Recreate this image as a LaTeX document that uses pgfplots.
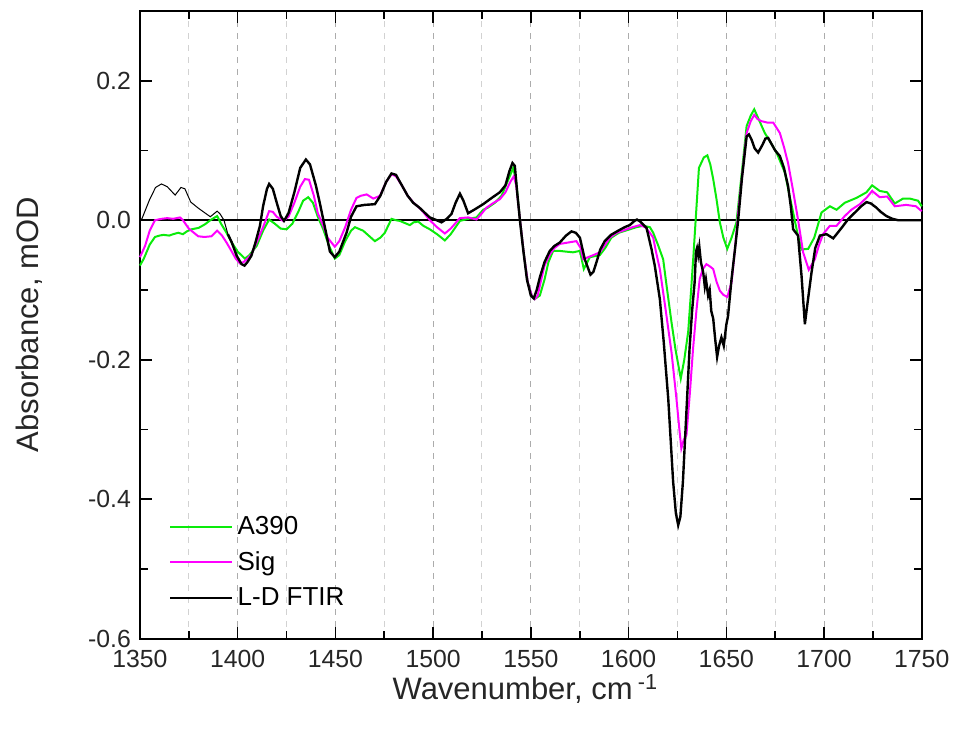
\documentclass[border=0pt]{standalone}
\usepackage{fontspec}
\setmainfont{Liberation Sans}
\usepackage{pgfplots}
\pgfplotsset{compat=1.18}
\definecolor{cgreen}{RGB}{10,235,10}
\definecolor{cmag}{RGB}{255,0,255}
\begin{document}
\begin{tikzpicture}
\begin{axis}[
  scale only axis, width=391pt, height=314pt,
  xmin=1350, xmax=1750, ymin=-0.6, ymax=0.3,
  clip=false,
  xtick={1350,1400,1450,1500,1550,1600,1650,1700,1750},
  minor x tick num=1,
  ytick={-0.6,-0.4,-0.2,0,0.2},
  minor y tick num=1,
  tick align=inside,
  major tick length=6pt, minor tick length=4pt,
  tick style={black, line width=0.8pt},
  axis line style={line width=0.9pt},
  xmajorgrids, xminorgrids,
  major grid style={gray!65, dashed, line width=0.5pt},
  minor grid style={gray!35, dashed, line width=0.5pt},
  /pgf/number format/assume math mode=true,
  yticklabel style={/pgf/number format/fixed, /pgf/number format/fixed zerofill, /pgf/number format/precision=1, xshift=-1pt, font=\fontsize{12.4}{14}\selectfont, text=black!85},
  xticklabel style={/pgf/number format/set thousands separator={}, yshift=-2pt, font=\fontsize{12.4}{14}\selectfont, text=black!85},
  xlabel={Wavenumber, cm\,\textsuperscript{-1}},
  ylabel={Absorbance, mOD},
  every axis x label/.style={at={(axis description cs:0.493,-0.08)}, anchor=center, font=\fontsize{15.5}{18}\selectfont, text=black!85},
  every axis y label/.style={at={(axis description cs:-0.141,0.5)}, anchor=center, rotate=90, font=\fontsize{15.5}{18}\selectfont, text=black!85},
  legend style={at={(axis description cs:0.037,0.202)}, anchor=north west, draw=none, fill=none,
    font=\fontsize{13}{15}\selectfont, row sep=3pt, inner sep=0pt},
  legend cell align=left,
  legend image code/.code={\draw[#1] (0pt,0pt) -- (31pt,0pt);},
]
\path (axis cs:1278.4,0.3157) rectangle (axis cs:1767.4,-0.7357);
\addplot[black, line width=0.9pt, forget plot] coordinates {(1350,0)(1750,0)};

\addplot[cgreen, line width=1pt] coordinates {
(1350,-0.065)(1352,-0.055)(1355,-0.035)(1357.7,-0.024)(1360,-0.022)(1362,-0.021)(1365,-0.022)(1367,-0.02)(1369.6,-0.018)(1372,-0.02)(1374,-0.016)(1376.4,-0.013)(1380,-0.011)(1383.2,-0.006)(1386,0.0)(1389.5,0.006)(1391.5,-0.005)(1394.3,-0.018)(1397,-0.032)(1400,-0.045)(1403.7,-0.055)(1406,-0.05)(1409.7,-0.037)(1413,-0.015)(1416.1,0.001)(1419,-0.005)(1422,-0.012)(1425,-0.013)(1428,-0.005)(1431,0.012)(1433.5,0.028)(1436.1,0.033)(1438.5,0.025)(1441,0.005)(1443.8,-0.013)(1446.5,-0.035)(1449.7,-0.055)(1452,-0.05)(1455,-0.03)(1458,-0.015)(1460,-0.01)(1464.2,-0.015)(1467,-0.022)(1470.2,-0.03)(1473,-0.025)(1475.3,-0.018)(1477,-0.008)(1478.7,0.002)(1481,0.0)(1483,-0.001)(1485.5,-0.004)(1488.1,-0.007)(1490,-0.003)(1492.4,-0.002)(1495,-0.008)(1498.3,-0.013)(1502,-0.02)(1506,-0.029)(1509,-0.02)(1513.7,-0.001)(1518,0.002)(1522.2,0.004)(1525.6,0.015)(1528,0.018)(1531.6,0.025)(1535,0.035)(1538,0.055)(1541,0.075)(1542.5,0.055)(1544.5,0.0)(1546.5,-0.05)(1548.5,-0.09)(1550.5,-0.108)(1552,-0.113)(1553.5,-0.11)(1554.6,-0.108)(1557,-0.085)(1559,-0.06)(1561.4,-0.044)(1564.8,-0.044)(1568,-0.045)(1571.6,-0.046)(1575.1,-0.044)(1577.1,-0.07)(1580.2,-0.053)(1585.3,-0.05)(1588,-0.04)(1591.2,-0.025)(1595,-0.018)(1600.6,-0.013)(1604,-0.01)(1607.4,-0.008)(1610.9,-0.01)(1612.6,-0.018)(1615,-0.035)(1617.7,-0.056)(1619.5,-0.095)(1621.9,-0.145)(1624,-0.185)(1626.7,-0.227)(1628.5,-0.2)(1630.5,-0.16)(1632,-0.1)(1633.2,-0.05)(1636,0.075)(1638.5,0.09)(1640.3,0.093)(1641.8,0.08)(1643.3,0.059)(1645,0.03)(1646.7,-0.003)(1648.5,-0.025)(1650.5,-0.041)(1652.7,-0.025)(1655.2,-0.003)(1658,0.07)(1660.4,0.135)(1662.5,0.15)(1664.3,0.159)(1667,0.142)(1669.7,0.125)(1673,0.11)(1675.7,0.097)(1680,0.068)(1682,0.04)(1684.2,0.011)(1686.5,-0.02)(1688.5,-0.042)(1691.9,-0.041)(1695,-0.025)(1698.7,0.011)(1703,0.02)(1706.4,0.015)(1710.6,0.025)(1716.6,0.032)(1721.7,0.04)(1724.6,0.05)(1728.5,0.042)(1732.3,0.04)(1736.2,0.024)(1740.4,0.031)(1743.9,0.031)(1748.1,0.028)(1750,0.02)
};
\addlegendentry{A390}

\addplot[cmag, line width=1pt] coordinates {
(1350,-0.053)(1352.6,-0.037)(1355,-0.015)(1357.7,0.0)(1361,0.002)(1364,0.003)(1367,0.002)(1370.5,0.004)(1372,0.0)(1375,-0.012)(1379.8,-0.023)(1383,-0.024)(1386.6,-0.023)(1389.5,-0.015)(1392,-0.022)(1394.3,-0.032)(1397,-0.045)(1399,-0.055)(1401.2,-0.062)(1403,-0.06)(1405,-0.055)(1407,-0.049)(1410,-0.03)(1413,-0.01)(1416.1,0.013)(1418,0.012)(1420,0.005)(1423.3,-0.001)(1426,0.005)(1429,0.025)(1432,0.048)(1434.4,0.059)(1436.5,0.058)(1439,0.035)(1441,0.01)(1443.8,-0.008)(1446,-0.025)(1449.7,-0.038)(1452,-0.03)(1455,-0.01)(1458,0.015)(1460.8,0.032)(1463,0.035)(1466,0.037)(1469.4,0.031)(1472.8,0.035)(1476,0.055)(1478.7,0.066)(1481,0.063)(1484,0.05)(1487,0.035)(1490,0.025)(1494,0.015)(1498.3,0.0)(1502,-0.01)(1506,-0.019)(1509,-0.012)(1513.7,0.003)(1518,0.004)(1522.2,0.001)(1525,0.01)(1527.3,0.018)(1531,0.025)(1534.1,0.03)(1537,0.04)(1539.5,0.055)(1541.3,0.063)(1542.5,0.05)(1544.5,0.0)(1546.5,-0.05)(1548.5,-0.09)(1550.5,-0.108)(1552,-0.113)(1553.5,-0.108)(1554.6,-0.094)(1557,-0.065)(1559.7,-0.049)(1562,-0.04)(1564.8,-0.034)(1569,-0.032)(1573.3,-0.03)(1575.5,-0.04)(1576.8,-0.056)(1579.3,-0.053)(1582,-0.05)(1585.3,-0.046)(1588,-0.035)(1590.4,-0.025)(1594,-0.018)(1599,-0.013)(1602,-0.01)(1605.8,-0.007)(1608.5,-0.01)(1610.9,-0.018)(1612.6,-0.025)(1614,-0.045)(1616,-0.07)(1619.4,-0.137)(1622,-0.19)(1624.5,-0.256)(1626,-0.3)(1627,-0.327)(1628.2,-0.315)(1629.6,-0.308)(1631.3,-0.25)(1633,-0.184)(1634.7,-0.13)(1636.4,-0.084)(1638,-0.07)(1639.8,-0.063)(1641.5,-0.066)(1643.3,-0.07)(1645,-0.088)(1646.7,-0.101)(1648.5,-0.107)(1650.5,-0.11)(1652.7,-0.089)(1654.5,-0.04)(1656.1,0.011)(1658.5,0.075)(1660.4,0.125)(1662.5,0.142)(1664.3,0.151)(1666,0.145)(1668,0.142)(1671,0.14)(1674,0.14)(1677.4,0.125)(1679.5,0.105)(1681.6,0.082)(1684,0.045)(1686.7,0.001)(1689.3,-0.046)(1692.2,-0.071)(1695.3,-0.056)(1697.5,-0.035)(1699.5,-0.02)(1703,-0.008)(1706.4,-0.008)(1710.6,0.006)(1714,0.015)(1718.3,0.023)(1722,0.033)(1724.6,0.042)(1728.5,0.033)(1732.3,0.034)(1736.2,0.02)(1742.1,0.022)(1747,0.02)(1750,0.013)
};
\addlegendentry{Sig}

\addplot[black, line width=0.5pt, forget plot] coordinates {
(1350,0.0)(1351,0.002)(1355,0.03)(1358,0.047)(1361,0.052)(1364,0.048)(1368,0.036)(1371,0.047)(1373,0.045)(1376,0.026)(1380,0.017)(1383,0.011)(1386,0.005)(1389.5,0.013)(1391,0.009)(1393,0.0)(1395,-0.02)
};
\addplot[black, line width=1.2pt] coordinates {
(1395,-0.02)(1397,-0.032)(1399.5,-0.051)(1402,-0.063)(1403.5,-0.065)(1405,-0.06)(1407,-0.051)(1409,-0.033)(1411.4,-0.008)(1413,0.02)(1415,0.045)(1416.1,0.052)(1418,0.045)(1420,0.025)(1422,0.006)(1423.7,-0.001)(1426,0.01)(1429,0.04)(1432,0.075)(1434.9,0.087)(1437,0.08)(1440,0.05)(1442,0.025)(1445,-0.015)(1447.2,-0.045)(1449.7,-0.053)(1452,-0.045)(1455.7,-0.018)(1458,0.005)(1460.8,0.02)(1465,0.022)(1470.2,0.023)(1473,0.035)(1476,0.055)(1478.7,0.067)(1481,0.065)(1484,0.05)(1487,0.035)(1489.8,0.025)(1493,0.018)(1496,0.01)(1498.3,0.004)(1501,0.001)(1504.3,-0.003)(1507,0.002)(1509.4,0.009)(1511.5,0.025)(1513.7,0.038)(1515.5,0.028)(1517.9,0.01)(1521,0.015)(1525.6,0.023)(1530,0.032)(1534.1,0.04)(1537,0.05)(1539,0.07)(1540.6,0.082)(1541.8,0.078)(1543,0.04)(1544.4,0.0)(1546,-0.04)(1548,-0.085)(1550,-0.108)(1551.5,-0.112)(1553,-0.1)(1554.6,-0.082)(1557,-0.06)(1559.7,-0.044)(1562,-0.037)(1564.8,-0.032)(1568,-0.022)(1570.8,-0.016)(1573,-0.018)(1575.1,-0.025)(1577.6,-0.056)(1580.5,-0.078)(1582,-0.074)(1583.6,-0.06)(1585.5,-0.042)(1587.8,-0.03)(1591,-0.021)(1594.7,-0.015)(1598,-0.01)(1600.6,-0.007)(1603,-0.001)(1604.3,0.001)(1606,-0.002)(1609.2,-0.011)(1611.7,-0.041)(1613.4,-0.065)(1616,-0.113)(1618,-0.175)(1620.3,-0.256)(1622.8,-0.375)(1624.2,-0.42)(1625.4,-0.437)(1626.5,-0.425)(1627.8,-0.375)(1629.5,-0.28)(1631.2,-0.184)(1632.5,-0.13)(1633.8,-0.089)(1634.5,-0.045)(1635,-0.04)(1635.6,-0.05)(1636.2,-0.038)(1637,-0.06)(1638.2,-0.075)(1639,-0.095)(1639.6,-0.085)(1640.7,-0.108)(1641.5,-0.1)(1642.3,-0.13)(1643.3,-0.141)(1644.3,-0.17)(1645.3,-0.196)(1646.3,-0.18)(1647.5,-0.168)(1648.7,-0.18)(1650,-0.15)(1650.9,-0.137)(1652.7,-0.084)(1654.5,-0.04)(1656.1,0.001)(1658,0.06)(1660.4,0.12)(1661.6,0.123)(1663,0.115)(1664.5,0.103)(1666.3,0.097)(1668.5,0.108)(1670,0.117)(1671.4,0.118)(1673,0.11)(1675,0.1)(1677.4,0.092)(1679.5,0.075)(1681.6,0.049)(1683,0.02)(1684.2,-0.013)(1686.7,-0.022)(1688.5,-0.08)(1690.2,-0.149)(1691.5,-0.12)(1693.6,-0.075)(1695.5,-0.04)(1697.9,-0.022)(1701.3,-0.02)(1704.7,-0.026)(1707,-0.018)(1709.8,-0.008)(1712.5,0.002)(1715.8,0.011)(1719,0.02)(1721.7,0.026)(1724,0.024)(1726.8,0.018)(1729,0.012)(1731.9,0.006)(1735,0.002)(1737.9,0.0)(1742,0.0)(1750,0.0)
};
\addlegendentry{L-D FTIR}
\end{axis}
\end{tikzpicture}
\end{document}
